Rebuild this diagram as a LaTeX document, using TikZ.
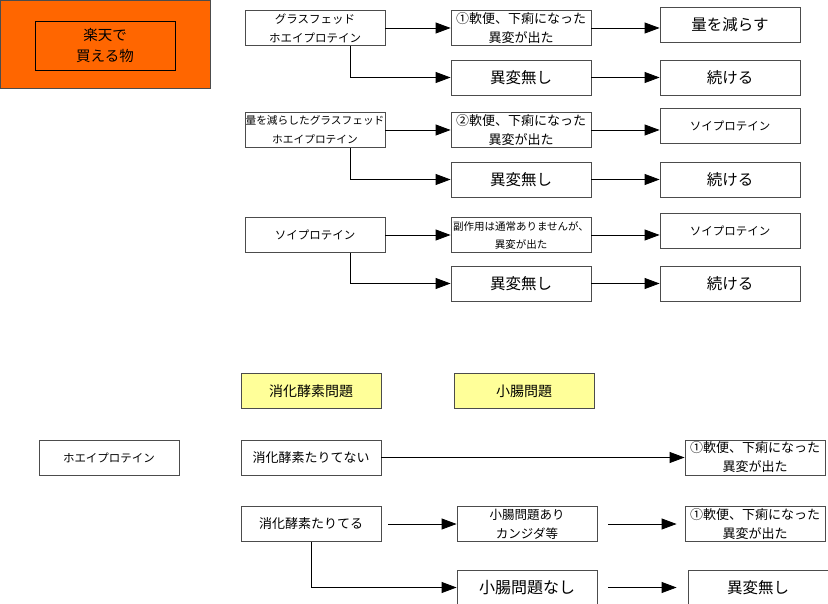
\documentclass[tikz,border=0pt]{standalone}
\usepackage{fontspec}
\setmainfont{Noto Sans CJK JP}
\usetikzlibrary{arrows.meta}

\definecolor{rakuten}{HTML}{FF6600}
\definecolor{memo}{HTML}{FFFF99}

\begin{document}
\begin{tikzpicture}[x=1pt, y=-1pt,
    box/.style = {draw=black!70, line width=0.8pt, fill=white, minimum width=140pt, minimum height=35pt, inner sep=0pt, align=center, font=\fontsize{13}{19}\selectfont},
    small/.style = {font=\fontsize{11.5}{19}\selectfont},
    tiny/.style = {font=\fontsize{10.5}{18}\selectfont},
    big/.style = {font=\fontsize{15.5}{19}\selectfont},
    memo/.style = {box, fill=memo, font=\fontsize{14}{19}\selectfont},
    arr/.style = {-{Triangle[length=15pt, width=11pt]}, line width=0.8pt}]
                \useasboundingbox (0, 0) rectangle (828, 604);

                % header
                \node[draw=black!70, line width=0.8pt, fill=rakuten, minimum width=210pt, minimum height=88pt] at (105, 44) (shop) {};
                \node[draw, line width=0.6pt, minimum width=140pt, minimum height=49pt, align=center, font=\fontsize{14.5}{21}\selectfont] at (105, 45.5) (shopname) {楽天で\\買える物};

                % grass fed whey
                \node[box, small] at (315, 28) (G1) {グラスフェッド\\ホエイプロテイン};
                \node[box] at (521, 28) (G1bad) {①軟便、下痢になった\\異変が出た};
                \node[box, big] at (730, 24.5) (G1less) {量を減らす};
                \node[box, big] at (521, 77.5) (G1ok) {異変無し};
                \node[box, big] at (730, 77.5) (G1keep) {続ける};

                \draw [arr] (G1.east) -- (G1bad.west);
                \draw [arr] (G1bad.east) -- (G1bad.east -| G1less.west);
                \draw [arr] ([xshift=35pt]G1.south) |- (G1ok.west);
                \draw [arr] (G1ok) -- (G1keep);

                % less grass fed whey
                \node[box, font=\fontsize{10.7}{19}\selectfont] at (315, 130) (G2) {量を減らしたグラスフェッド\\ホエイプロテイン};
                \node[box] at (521, 130) (G2bad) {②軟便、下痢になった\\異変が出た};
                \node[box, small] at (730, 125.5) (G2soy) {ソイプロテイン};
                \node[box, big] at (521, 179.5) (G2ok) {異変無し};
                \node[box, big] at (730, 179.5) (G2keep) {続ける};

                \draw [arr] (G2.east) -- (G2bad.west);
                \draw [arr] (G2bad.east) -- (G2bad.east -| G2soy.west);
                \draw [arr] ([xshift=35pt]G2.south) |- (G2ok.west);
                \draw [arr] (G2ok) -- (G2keep);

                % soy
                \node[box, small] at (315, 235) (S) {ソイプロテイン};
                \node[box, tiny] at (521, 235) (Sbad) {副作用は通常ありませんが、\\異変が出た};
                \node[box, small] at (730, 231) (Ssoy) {ソイプロテイン};
                \node[box, big] at (521, 283.5) (Sok) {異変無し};
                \node[box, big] at (730, 283.5) (Skeep) {続ける};

                \draw [arr] (S.east) -- (Sbad.west);
                \draw [arr] (Sbad.east) -- (Sbad.east -| Ssoy.west);
                \draw [arr] ([xshift=35pt]S.south) |- (Sok.west);
                \draw [arr] (Sok) -- (Skeep);

                % causes
                \node[memo] at (311, 391) (enzyme) {消化酵素問題};
                \node[memo] at (524, 391) (gut) {小腸問題};

                \node[box, small] at (109, 457.5) (W) {ホエイプロテイン};
                \node[box] at (311, 457.5) (Eno) {消化酵素たりてない};
                \node[box] at (755, 457.5) (Enobad) {①軟便、下痢になった\\異変が出た};
                \node[box] at (311, 524) (Eyes) {消化酵素たりてる};
                \node[box, font=\fontsize{12.5}{19}\selectfont] at (527, 524) (Gyes) {小腸問題あり\\カンジダ等};
                \node[box] at (755, 524) (Gyesbad) {①軟便、下痢になった\\異変が出た};
                \node[box, font=\fontsize{16}{19}\selectfont] at (527, 587.5) (Gno) {小腸問題なし};
                \node[box, big] at (758, 587.5) (Gnook) {異変無し};

                \draw [arr] (Eno.east) -- (Enobad.west);
                \draw [arr, shorten <=7pt] (Eyes) -- (Gyes);
                \draw [arr, shorten <=11pt, shorten >=8pt] (Gyes) -- (Gyesbad);
                \draw [arr] (Eyes.south) |- (Gno.west);
                \draw [arr, shorten <=11pt, shorten >=11pt] (Gno) -- (Gnook);
            \end{tikzpicture}
\end{document}
